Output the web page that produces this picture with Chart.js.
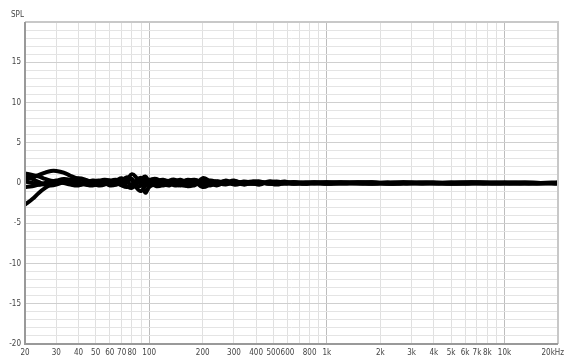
<!DOCTYPE html>
<html>
<head>
<meta charset="utf-8">
<script src="https://cdn.jsdelivr.net/npm/chart.js@4.4.1/dist/chart.umd.min.js"></script>
<style>
  html, body { margin: 0; padding: 0; background: #fff; }
  #wrap { width: 565px; height: 360px; }
</style>
</head>
<body>
<div id="wrap"><canvas id="spl"></canvas></div>
<script>
// frequencies (Hz) shared by all traces
const freqs = [20,22,24,26,28,30,33,36,40,44,48,52,56,60,65,70,75,80,85,90,95,100,110,120,130,140,150,165,180,200,
  220,240,270,300,340,380,420,470,520,580,650,750,850,1000,1200,1500,1800,2200,2700,3300,4000,5000,6500,8000,10000,13000,16000,20000];

const trace1 = [1.2,1.0,0.8,0.5,0.3,0.2,0.1,0.0,-0.2,-0.1,
  0.1,0.3,0.2,0.0,-0.2,0.1,0.4,1.1,0.6,-0.2,
  -0.4,0.3,0.5,-0.1,-0.3,0.2,0.4,0.0,-0.3,0.6,
  0.2,-0.2,0.3,-0.1,0.2,0.0,-0.2,0.2,0.1,-0.1,
  0.1,-0.1,0.1,0.0,0.1,-0.1,0.0,0.1,0.0,-0.1,
  0.0,0.1,0.0,-0.1,0.0,0.1,0.0,0.0];
const trace2 = [-2.7,-2.0,-1.2,-0.6,-0.2,0.0,0.1,0.2,0.0,-0.2,
  -0.3,-0.1,0.2,0.3,0.1,-0.3,-0.5,-0.2,0.3,0.6,
  -1.2,-0.5,0.2,0.4,0.0,-0.3,-0.2,0.3,0.2,-0.5,
  -0.2,0.2,0.0,0.3,-0.2,0.1,0.2,-0.1,0.0,0.2,
  -0.1,0.0,0.1,-0.1,0.0,0.1,-0.1,0.0,0.1,0.0,
  -0.1,0.0,0.1,0.0,0.0,-0.1,0.0,0.0];
const trace3 = [0.4,0.7,1.0,1.3,1.5,1.5,1.3,0.9,0.5,0.3,
  0.2,0.0,-0.1,0.1,0.3,0.6,0.2,-0.3,0.1,0.5,
  0.2,-0.3,-0.1,0.3,0.2,-0.2,0.0,0.4,0.1,-0.2,
  0.3,0.1,-0.2,0.2,0.0,-0.1,0.1,0.0,0.2,0.0,
  -0.1,0.1,0.0,0.1,-0.1,0.0,0.1,-0.1,0.0,0.1,
  0.0,0.0,-0.1,0.0,0.1,0.0,0.0,0.1];
const trace4 = [0.8,0.5,0.1,-0.2,-0.3,-0.2,0.1,0.4,0.6,0.4,
  0.0,-0.3,-0.2,0.2,0.4,0.0,-0.4,-0.6,-0.1,0.4,
  0.8,0.2,-0.4,-0.2,0.3,0.4,-0.2,-0.3,0.3,0.1,
  -0.3,0.0,0.2,-0.2,0.0,0.2,0.1,-0.1,0.0,0.1,
  0.0,-0.1,0.0,0.1,0.0,0.0,0.1,-0.1,0.0,0.0,
  0.1,-0.1,0.0,0.0,-0.1,0.0,0.0,-0.1];
const trace5 = [-0.5,-0.4,-0.2,0.0,0.2,0.3,0.5,0.4,0.1,-0.2,
  -0.1,0.2,0.4,0.3,0.0,-0.2,0.2,0.5,-0.6,-1.0,
  -0.3,0.4,0.1,-0.3,0.0,0.3,0.1,-0.4,-0.2,0.3,
  0.0,-0.3,0.1,0.2,-0.1,0.0,0.1,0.0,-0.2,0.0,
  0.1,0.0,-0.1,0.0,0.1,0.0,-0.1,0.0,0.1,0.0,
  0.0,-0.1,0.0,0.1,0.0,0.0,-0.1,0.0];
const trace6 = [0.2,0.0,-0.2,-0.1,0.0,0.1,0.0,-0.2,-0.3,0.0,
  0.3,0.2,0.0,-0.3,-0.2,0.2,0.7,0.3,-0.4,-0.3,
  0.4,0.0,-0.2,0.2,0.1,0.0,-0.3,0.2,0.4,0.0,
  0.1,0.2,-0.1,0.0,0.1,-0.1,0.0,0.1,0.0,0.0,
  0.1,0.0,0.0,-0.1,0.0,0.1,0.0,0.0,-0.1,0.0,
  0.0,0.0,0.1,0.0,0.0,0.0,0.0,0.0];
const traces = [trace1, trace2, trace3, trace4, trace5, trace6];

// grid positions on the frequency axis, and which of them get a label
const freqGrid = [20,30,40,50,60,70,80,90,100,200,300,400,500,600,700,800,900,
  1000,2000,3000,4000,5000,6000,7000,8000,9000,10000,20000];
const freqLabels = {20:'20',30:'30',40:'40',50:'50',60:'60',70:'70',80:'80',100:'100',
  200:'200',300:'300',400:'400',500:'500',600:'600',800:'800',1000:'1k',
  2000:'2k',3000:'3k',4000:'4k',5000:'5k',6000:'6k',7000:'7k',8000:'8k',10000:'10k',20000:'20kHz'};

const fontFamily = "'DejaVu Sans Condensed', 'Liberation Sans Narrow', 'Liberation Sans', Arial, sans-serif";
const tickFont = { family: fontFamily, size: 8 };

const framePlugin = {
  id: 'frame',
  beforeDraw(chart) {
    // keep the last frequency label inside the canvas, right-aligned like the original
    const items = chart.scales.x.getLabelItems();
    const last = items.find(it => it.label === '20kHz');
    if (last) {
      last.options.textAlign = 'right';
      last.options.translation[0] = chart.width - 1;
    }
  },
  afterDraw(chart) {
    const { ctx, chartArea: a } = chart;
    ctx.save();
    ctx.strokeStyle = '#c8c8c8';
    ctx.lineWidth = 2;
    ctx.beginPath();
    ctx.moveTo(a.left, a.top); ctx.lineTo(a.right, a.top); ctx.lineTo(a.right, a.bottom);
    ctx.stroke();
    ctx.strokeStyle = '#999';
    ctx.lineWidth = 2;
    ctx.beginPath();
    ctx.moveTo(a.left, a.top); ctx.lineTo(a.left, a.bottom); ctx.lineTo(a.right, a.bottom);
    ctx.stroke();
    ctx.fillStyle = '#444';
    ctx.font = '8px ' + fontFamily;
    ctx.textBaseline = 'middle';
    ctx.fillText('SPL', 11, 15);
    ctx.restore();
  }
};

new Chart(document.getElementById('spl').getContext('2d'), {
  type: 'line',
  data: {
    datasets: traces.map(t => ({
      data: t.map((v, i) => ({ x: freqs[i], y: v })),
      borderColor: '#000',
      borderWidth: 4,
      pointRadius: 0,
      tension: 0.4,
      fill: false
    }))
  },
  options: {
    responsive: true,
    maintainAspectRatio: false,
    animation: false,
    layout: { padding: { top: 22, right: 7, left: 0, bottom: 0 } },
    plugins: { legend: { display: false }, tooltip: { enabled: false } },
    scales: {
      x: {
        type: 'logarithmic',
        min: 20,
        max: 20000,
        afterBuildTicks: s => { s.ticks = freqGrid.map(v => ({ value: v })); },
        afterFit: s => { s.height = 16; s.paddingLeft = 0; s.paddingRight = 0; },
        ticks: {
          autoSkip: false,
          maxRotation: 0,
          padding: 4,
          color: '#444',
          font: tickFont,
          callback: v => freqLabels[v] || ''
        },
        grid: {
          drawTicks: false,
          color: c => [100, 1000, 10000].includes(c.tick.value) ? '#bdbdbd' : '#e0e0e0'
        },
        border: { display: false }
      },
      y: {
        min: -20,
        max: 20,
        afterBuildTicks: s => {
          const t = [];
          for (let v = -20; v <= 20; v++) t.push({ value: v });
          s.ticks = t;
        },
        afterFit: s => { s.width = 25; s.paddingTop = 0; s.paddingBottom = 0; },
        ticks: {
          autoSkip: false,
          padding: 4,
          color: '#444',
          font: tickFont,
          callback: v => (v % 5 === 0 && v !== 20) ? String(v) : ''
        },
        grid: {
          drawTicks: false,
          color: c => c.tick.value % 5 === 0 ? '#cfcfcf' : '#e4e4e4'
        },
        border: { display: false }
      }
    }
  },
  plugins: [framePlugin]
});
</script>
</body>
</html>
